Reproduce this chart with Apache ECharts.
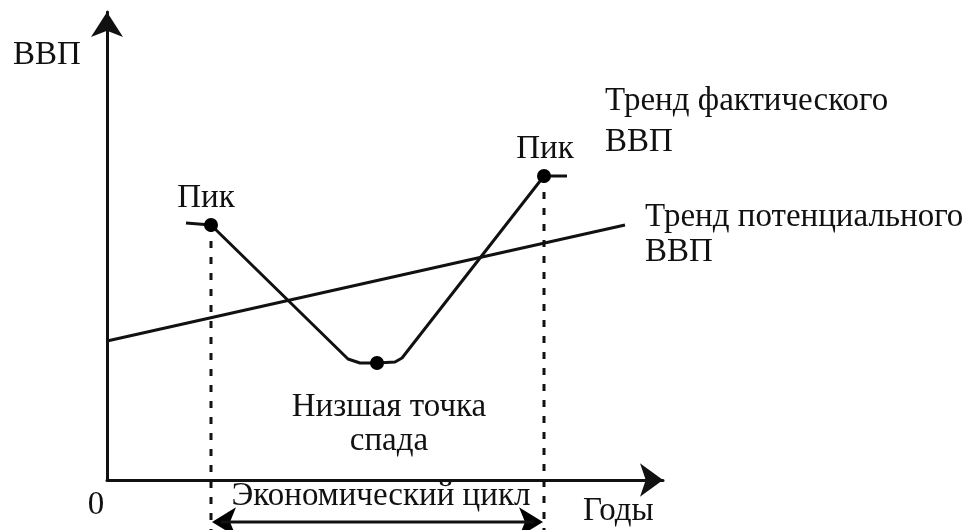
<!DOCTYPE html>
<html><head><meta charset="utf-8">
<script src="https://cdn.jsdelivr.net/npm/echarts@6/dist/echarts.min.js"></script>
<style>html,body{margin:0;padding:0;background:#fff}#c{width:965px;height:530px}</style>
</head><body><div id="c"></div>
<script>
// Conceptual units (no real scale)
const actualX = [15.8, 20.8, 48.2, 50.6, 54.0, 57.6, 59.0, 87.4, 92.0];
const actualY = [51.4, 51.0, 24.2, 23.4, 23.4, 23.6, 24.4, 60.8, 60.8];
const potentialX = [0, 103.6];
const potentialY = [27.8, 51.0];
const keyX = [20.8, 54.0, 87.4];   // Пик, низшая точка, Пик
const keyY = [51.0, 23.4, 60.8];
const cycleX = [20.8, 87.4];        // economic cycle span
const cycleHeadX = [21.0, 87.2];    // arrowhead centres
const cycleLevel = -8.4, dashBottom = -10;

const FONT = '"Liberation Serif", "Times New Roman", serif';
const FS = 33;
const zip = (xs, ys) => xs.map((x, i) => [x, ys[i]]);

const chart = echarts.init(document.getElementById('c'));
function txt(text, x, y, align) {
  return { type: 'text', x: x, y: y, style: { text: text, fill: '#111', font: FS + 'px ' + FONT, align: align || 'left', verticalAlign: 'middle' } };
}
chart.setOption({
  backgroundColor: '#fff',
  animation: false,
  grid: { left: 107, top: 12, width: 556, height: 468 },
  xAxis: { type: 'value', min: 0, max: 111.2, splitLine: { show: false }, axisTick: { show: false }, axisLabel: { show: false },
    axisLine: { onZero: false, lineStyle: { color: '#111', width: 3 }, symbol: ['none', 'arrow'], symbolSize: [25, 23] } },
  yAxis: { type: 'value', min: 0, max: 93.6, splitLine: { show: false }, axisTick: { show: false }, axisLabel: { show: false },
    axisLine: { onZero: false, lineStyle: { color: '#111', width: 3 }, symbol: ['none', 'arrow'], symbolSize: [24, 25] } },
  series: [
    { type: 'line', data: zip(potentialX, potentialY), symbol: 'none', lineStyle: { color: '#111', width: 3 } },
    { type: 'line', data: zip(actualX, actualY), symbol: 'none', lineStyle: { color: '#111', width: 3 } },
    { type: 'line', data: [[keyX[0], keyY[0]], [keyX[0], dashBottom]], symbol: 'none', clip: false, lineStyle: { color: '#111', width: 3, type: [7, 9] } },
    { type: 'line', data: [[keyX[2], keyY[2]], [keyX[2], dashBottom]], symbol: 'none', clip: false, lineStyle: { color: '#111', width: 3, type: [7, 9] } },
    { type: 'line', data: [[cycleX[0] + 2, cycleLevel], [cycleX[1] - 2, cycleLevel]], symbol: 'none', clip: false, lineStyle: { color: '#111', width: 3 } },
    { type: 'scatter', clip: false, symbol: 'arrow', symbolSize: [22, 24], itemStyle: { color: '#000', opacity: 1 },
      data: [
        { value: [cycleHeadX[0], cycleLevel], symbolRotate: 90 },
        { value: [cycleHeadX[1], cycleLevel], symbolRotate: -90 }
      ] },
    { type: 'scatter', data: zip(keyX, keyY), symbol: 'circle', symbolSize: 14, itemStyle: { color: '#000', opacity: 1 }, z: 5 }
  ],
  graphic: [
    txt('ВВП', 13, 55),
    txt('Пик', 206, 198, 'center'),
    txt('Пик', 545, 149, 'center'),
    txt('Тренд фактического', 605, 101),
    txt('ВВП', 605, 142),
    txt('Тренд потенциального', 645, 217),
    txt('ВВП', 645, 252),
    txt('Низшая точка', 389, 407, 'center'),
    txt('спада', 389, 441, 'center'),
    txt('0', 96, 505, 'center'),
    txt('Экономический цикл', 381, 496, 'center'),
    txt('Годы', 583, 511)
  ]
});
</script></body></html>
